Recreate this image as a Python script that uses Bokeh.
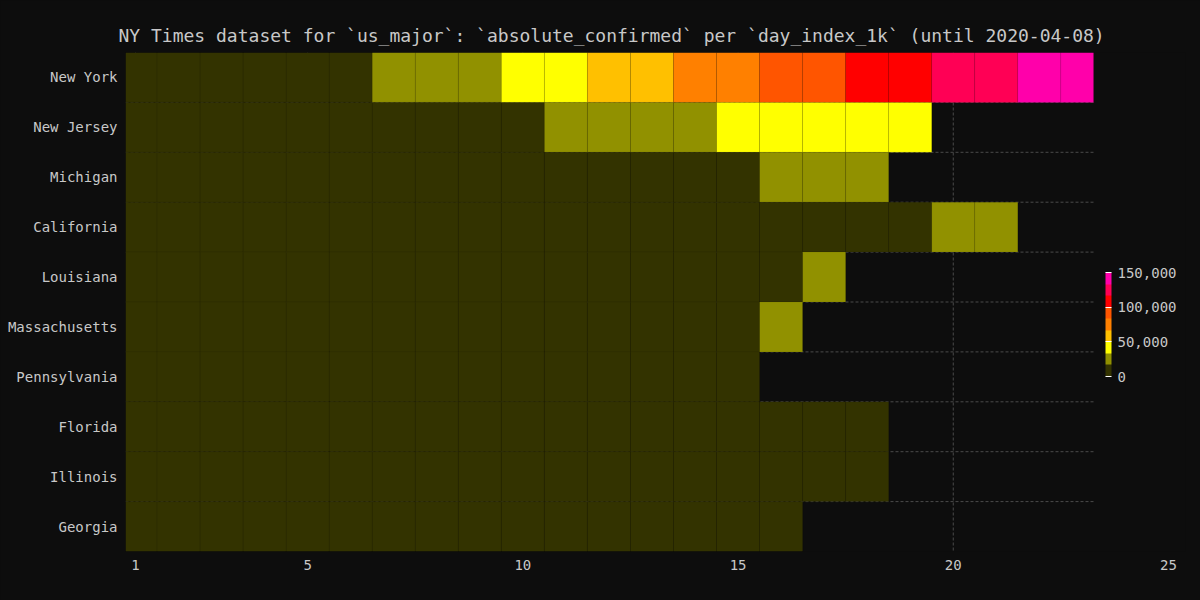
from bokeh.plotting import figure
from bokeh.models import (ColumnDataSource, Range1d, FixedTicker, LinearColorMapper,
                          ColorBar, NumeralTickFormatter)
from bokeh.transform import transform
from bokeh.embed import file_html
from bokeh.resources import INLINE

# ---------------- data ----------------
states = ["New York", "New Jersey", "Michigan", "California", "Louisiana",
          "Massachusetts", "Pennsylvania", "Florida", "Illinois", "Georgia"]

new_york = [1706, 2495, 5365, 8310, 11710, 15800, 20884, 25681, 33066, 38987, 44635,
            53363, 59568, 67174, 75832, 83889, 92506, 102870, 114996, 122911, 130703,
            138863, 149401]
new_jersey = [1327, 1914, 2844, 3675, 4402, 6876, 8825, 11124, 13386, 16636, 18696,
              22255, 25590, 29895, 34124, 37505, 41090, 44416, 47437]
michigan = [1035, 1329, 1793, 2296, 2845, 3657, 4650, 5486, 6498, 7615, 9315, 10791,
            12670, 14225, 15718, 17221, 18970, 20346]
california = [1067, 1283, 1536, 1733, 2108, 2538, 3183, 4060, 5095, 5852, 6360, 7429,
              8583, 9816, 11198, 12569, 13796, 15154, 16019, 17351, 18897]
louisiana = [1172, 1388, 1795, 2305, 2746, 3315, 3540, 4025, 5237, 6424, 9150, 10297,
             12496, 13010, 14867, 16284, 17030]
massachusetts = [1159, 1838, 2417, 3240, 4257, 4955, 5752, 6620, 7738, 8966, 10402,
                 11736, 12500, 13837, 15202, 16790]
pennsylvania = [1127, 1687, 2218, 2751, 3394, 4087, 4843, 5805, 7016, 8420, 10017,
                11510, 12980, 14559, 16239]
florida = [1171, 1412, 1682, 2355, 2900, 3763, 4246, 5473, 6338, 6955, 8010, 9585,
           10268, 11545, 12350, 13324, 14747, 15698]
illinois = [1285, 1535, 1865, 2538, 3024, 3491, 4596, 5057, 5994, 6980, 7695, 8904,
            10357, 11256, 12262, 13549, 14216, 15078]
georgia = [1097, 1387, 1643, 2198, 2446, 2683, 3032, 3929, 4638, 5348, 5967, 6647,
           7314, 7558, 9156, 10885]

series = [new_york, new_jersey, michigan, california, louisiana, massachusetts,
          pennsylvania, florida, illinois, georgia]

x_ticks = [1, 5, 10, 15, 20, 25]
cbar_ticks = [0, 50000, 100000, 150000]
palette = ["#333300", "#919100", "#ffff00", "#ffc000", "#ff8000",
           "#ff5500", "#ff0000", "#ff0055", "#ff00aa"]
value_low, value_high = 0, 150000

# ---------------- style / layout ----------------
BG = "#0d0d0d"
TXT = "#c8c8c8"
FONT = "DejaVu Sans Mono"
GRID = "#4a4a4a"
x_start, x_end = 0.7677, 25.396
x_clip = 23.26   # right edge of the drawn data area

left, right, top, bottom, val, day = [], [], [], [], [], []
for i, vals in enumerate(series):
    for d, v in enumerate(vals, start=1):
        left.append(max(d - 0.5, x_start))
        right.append(min(d + 0.5, x_clip))
        top.append(i)
        bottom.append(i + 1)
        val.append(v)
        day.append(d)
src = ColumnDataSource(dict(left=left, right=right, top=top, bottom=bottom, val=val, day=day))

p = figure(width=1200, height=600, output_backend="svg", toolbar_location=None,
           x_range=Range1d(x_start, x_end), y_range=Range1d(len(states), 0),
           min_border_left=125, min_border_right=15, min_border_top=52, min_border_bottom=49,
           background_fill_color=BG, border_fill_color=BG)
p.outline_line_color = None
p.styles = {"background-color": BG}

p.title.text = "NY Times dataset for `us_major`: `absolute_confirmed` per `day_index_1k` (until 2020-04-08)"
p.title.text_font = FONT
p.title.text_font_size = "18px"
p.title.text_font_style = "normal"
p.title.text_color = TXT
p.title.align = "left"
p.title.offset = -7
p.title.standoff = 13

p.xgrid.visible = False
p.ygrid.visible = False

# manual grid lines (limited to the data area)
hy = list(range(1, len(states)))
p.segment(x0=[x_start] * len(hy), x1=[x_clip] * len(hy), y0=hy, y1=hy,
          line_color=GRID, line_dash="3 2", line_width=1)
vx = [t for t in x_ticks if t < x_clip]
p.segment(x0=vx, x1=vx, y0=[0] * len(vx), y1=[len(states)] * len(vx),
          line_color=GRID, line_dash="3 2", line_width=1)

mapper = LinearColorMapper(palette=palette, low=value_low, high=value_high)
p.quad(left="left", right="right", top="top", bottom="bottom", source=src,
       fill_color=transform("val", mapper), line_color="#000000", line_alpha=0.06,
       line_width=1)

# axes
p.xaxis.ticker = FixedTicker(ticks=x_ticks)
p.yaxis.ticker = FixedTicker(ticks=[i + 0.5 for i in range(len(states))])
p.yaxis.major_label_overrides = {i + 0.5: s for i, s in enumerate(states)}
for ax in (p.xaxis[0], p.yaxis[0]):
    ax.axis_line_color = None
    ax.major_tick_line_color = None
    ax.minor_tick_line_color = None
    ax.major_tick_in = 0
    ax.major_tick_out = 0
    ax.major_label_text_font = FONT
    ax.major_label_text_font_size = "14px"
    ax.major_label_text_color = TXT
    ax.major_label_standoff = 8

cbar = ColorBar(color_mapper=mapper, ticker=FixedTicker(ticks=cbar_ticks),
                formatter=NumeralTickFormatter(format="0,0"),
                width=6, height=104, location=(980, 175), padding=0, margin=0,
                background_fill_alpha=0, border_line_color=None, bar_line_color=None,
                major_tick_line_color="#ffffff", major_tick_in=6, major_tick_out=0,
                minor_tick_line_color=None, label_standoff=6,
                major_label_text_font=FONT, major_label_text_font_size="14px",
                major_label_text_color=TXT)
p.add_layout(cbar, "center")

open("out.html", "w").write(file_html(p, INLINE))
